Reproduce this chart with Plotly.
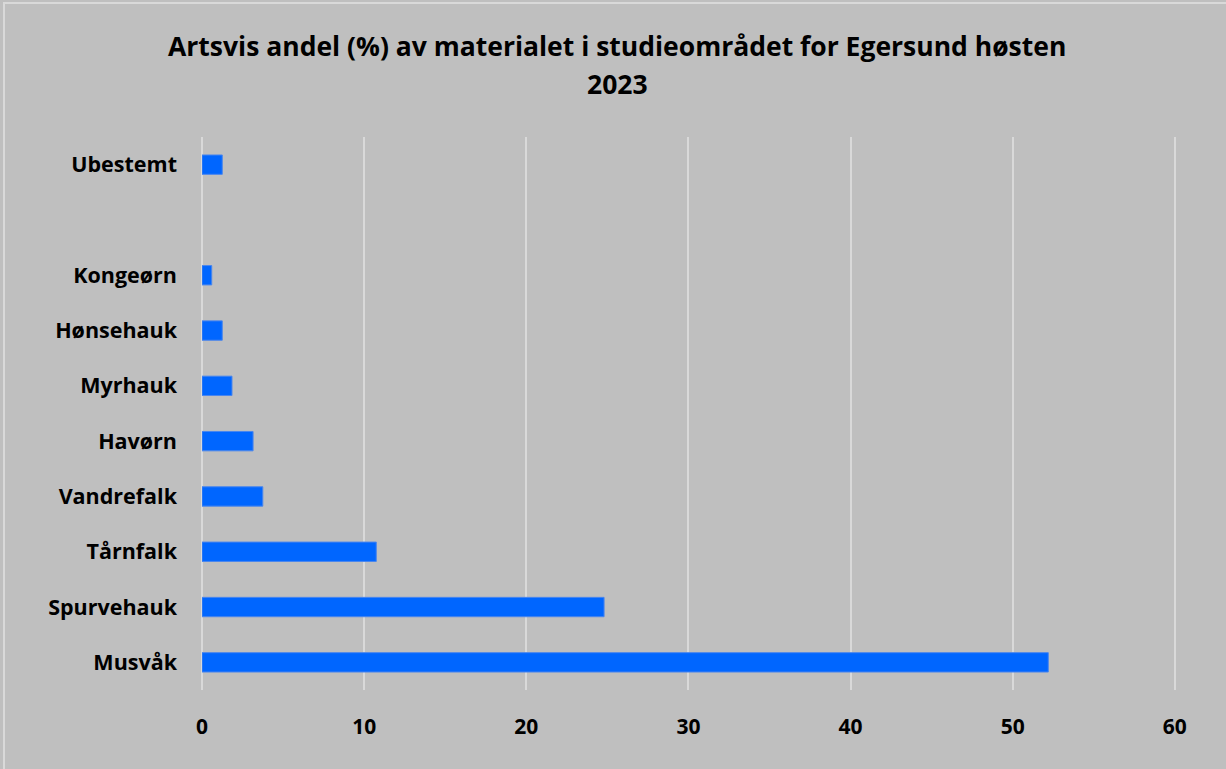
import plotly.graph_objects as go

# Species share of the autumn 2023 material (percent)
species = ["Musvåk", "Spurvehauk", "Tårnfalk", "Vandrefalk", "Havørn",
           "Myrhauk", "Hønsehauk", "Kongeørn", " ", "Ubestemt"]
share = [52.2, 24.8, 10.75, 3.75, 3.15, 1.85, 1.25, 0.6, None, 1.25]
x_ticks = [0, 10, 20, 30, 40, 50, 60]
title_lines = ["Artsvis andel (%) av materialet i studieområdet for Egersund høsten", "2023"]

FONT = "Open Sans"
BG = "#bfbfbf"
GRID = "#d9d9d9"
W, H = 1226, 769
ML, MR, MT, MB = 202, 48, 137, 79

fig = go.Figure(
    go.Bar(
        y=species,
        x=share,
        orientation="h",
        width=0.35,
        marker=dict(color="#0066ff", line=dict(color="#4a86ee", width=1)),
        hoverinfo="x+y",
    )
)

fig.update_layout(
    width=W,
    height=H,
    paper_bgcolor=BG,
    plot_bgcolor=BG,
    margin=dict(l=ML, r=MR, t=MT, b=MB),
    showlegend=False,
    font=dict(family=FONT, color="#000000"),
)

# two-line chart title
for i, line in enumerate(title_lines):
    fig.add_annotation(
        text=f"<b>{line}</b>",
        xref="paper", yref="paper",
        x=(617 - ML) / (W - ML - MR),
        y=1 + (MT - (46 + 38 * i)) / (H - MT - MB),
        xanchor="center", yanchor="middle",
        showarrow=False,
        font=dict(family=FONT, size=26.5, color="#000000"),
    )

fig.update_xaxes(
    range=[0, 60.2],
    tickvals=x_ticks,
    ticktext=[f"<b>{v}</b>" for v in x_ticks],
    tickfont=dict(family=FONT, size=21, color="#000000"),
    showgrid=True,
    gridcolor=GRID,
    gridwidth=1.5,
    zeroline=True,
    zerolinecolor=GRID,
    zerolinewidth=1.5,
    showline=False,
    ticks="",
    ticklen=0,
    ticklabelstandoff=22,
)
fig.update_yaxes(
    categoryorder="array",
    categoryarray=species,
    tickvals=species,
    ticktext=[f"<b>{s}</b>" if s.strip() else "" for s in species],
    tickfont=dict(family=FONT, size=21.5, color="#000000"),
    showgrid=False,
    zeroline=False,
    showline=False,
    ticks="",
    ticklabelstandoff=24,
)

# thin light frame around the chart area (left and top edges visible)
pw, ph = W - ML - MR, H - MT - MB
fig.add_shape(
    type="rect", xref="paper", yref="paper",
    x0=-(ML - 4) / pw, x1=1 + (MR + 10) / pw, y0=-(MB + 10) / ph, y1=1 + (MT - 3) / ph,
    line=dict(color=GRID, width=2), fillcolor="rgba(0,0,0,0)", layer="below",
)

fig.write_html("out.html")
